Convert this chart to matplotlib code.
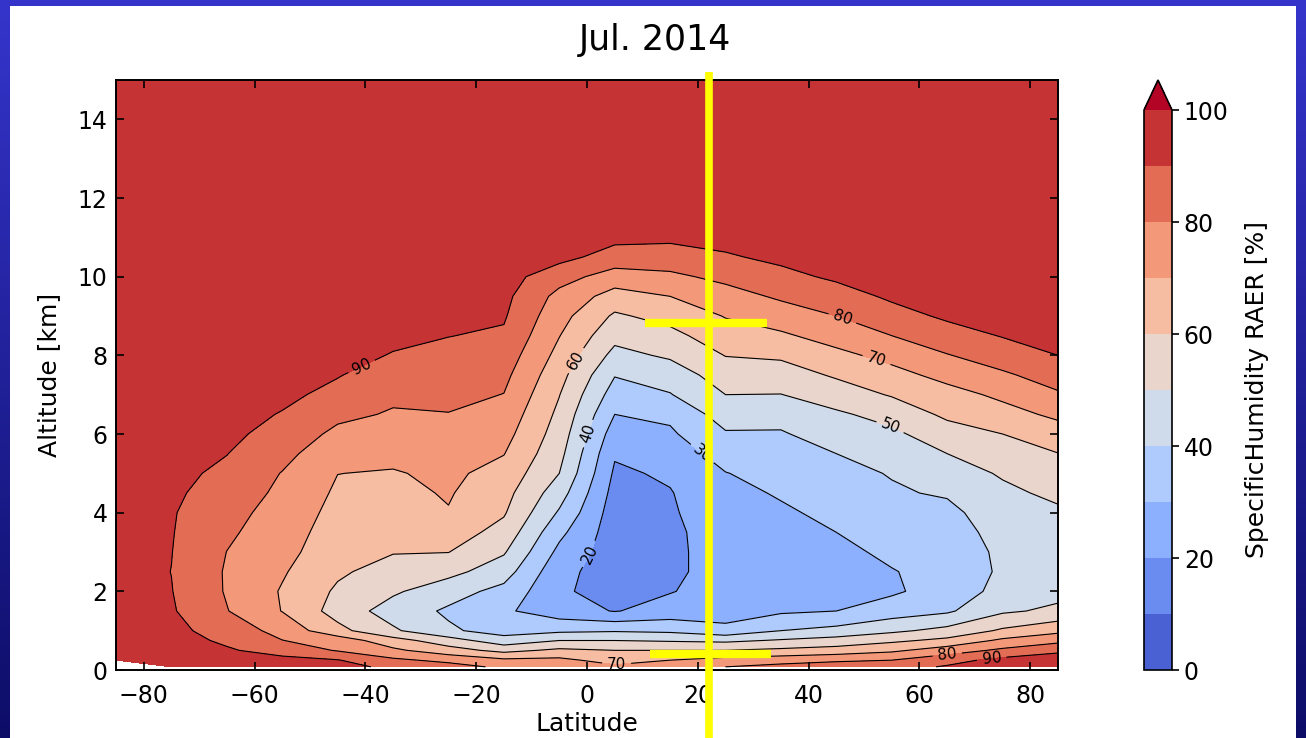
import numpy as np
import matplotlib
matplotlib.use("Agg")
import matplotlib.pyplot as plt
from matplotlib.colors import LinearSegmentedColormap
from matplotlib.lines import Line2D
from matplotlib.patches import Rectangle

# ---------------- data ----------------
lats = [-85, -75, -65, -55, -45, -35, -25, -15, -5, 5, 15, 25, 35, 45, 55, 65, 75, 85]
alts = [0.08, 0.25, 0.5, 0.75, 1.0, 1.5, 2.0, 2.5, 3.0, 3.5, 4.0, 4.5, 5.0, 5.5,
        6.0, 6.5, 7.0, 7.5, 8.0, 8.5, 9.0, 9.5, 10.0, 10.5, 11.0, 12.0, 15.0]

# relative humidity (RAER, %) per latitude column, bottom -> top
nan = float("nan")
rh_m85 = [nan, 97, 96.5, 96, 95.5, 95, 94.5, 94.5, 94.5, 94.7, 95, 95.2, 95.5, 95.8, 96, 96.3, 96.5, 96.8, 97, 97.2, 97.5, 97.7, 98, 98, 98, 98.5, 99]
rh_m75 = [97, 96.5, 95, 93.5, 92.5, 91, 90.3, 89.9, 90.2, 90.5, 90.8, 91.7, 92.5, 93.3, 94, 94.8, 95.5, 96, 96.5, 97, 97.3, 97.5, 97.8, 98, 98, 98.3, 99]
rh_m65 = [95.5, 94, 91, 88.5, 86, 80.4, 79.2, 79.1, 79.9, 81.5, 83, 85.5, 88, 90.2, 92, 93.3, 94.5, 95.3, 96, 96.5, 97, 97.3, 97.5, 97.8, 98, 98, 99]
rh_m55 = [94, 92.5, 86.5, 80.2, 76.5, 69.7, 69.2, 71, 73.3, 75, 76.5, 78, 79.6, 83, 86.8, 89.5, 92, 93, 94, 94.8, 95.5, 96, 96.5, 96.8, 97, 97.5, 99]
rh_m45 = [93, 90.5, 79.2, 75.6, 63, 56, 58.5, 61.5, 63.5, 65, 66.8, 68.5, 70.1, 73, 77.5, 82.5, 87.5, 90.5, 93, 94, 95, 95.5, 96, 96.5, 97, 97.5, 99]
rh_m35 = [88, 82, 72, 64, 51.5, 45.5, 51.5, 56, 60.5, 63, 65.5, 67.5, 69.3, 72.5, 76, 79, 82, 85.5, 89.5, 92, 94, 95, 95.5, 96, 96.5, 97, 98.5]
rh_m25 = [84, 77.5, 64, 54.5, 41.5, 38.5, 44, 53, 60.2, 65, 69.5, 70.8, 72, 74.5, 77, 79.7, 82.5, 85, 87.5, 90.2, 93, 94.5, 95.5, 96, 96.5, 97, 98.5]
rh_m15 = [78, 72, 57, 44, 36, 31.5, 37, 44.5, 51, 56.5, 61, 63.5, 66.5, 70.3, 73.5, 76.5, 79.8, 82.5, 85.5, 88.7, 91, 92.5, 94, 95, 96, 97, 98.5]
rh_m05 = [77, 72.5, 62, 50, 38, 24.5, 21.5, 23, 27.5, 32.5, 38.8, 44.5, 50, 53, 55.5, 57.8, 60.3, 63.5, 67, 70.3, 73.5, 77, 84, 93, 95, 96.5, 98.5]
rh_p05 = [72, 66, 60, 50, 39, 19.5, 16, 15, 14.5, 14.5, 15, 16.5, 18.5, 21, 25, 30, 35.5, 40.5, 47, 53, 58.5, 66, 75.5, 86, 92.5, 96, 98.5]
rh_p15 = [74, 70, 60, 49, 38, 24, 19.5, 18.5, 18.5, 18.5, 19, 19.5, 21.3, 24.5, 28.5, 32, 39.5, 44.5, 51.5, 57, 63.5, 70, 78, 85.5, 92, 96, 98.5]
rh_p25 = [80, 74, 60, 48, 33, 25, 24, 23, 23, 23.5, 25, 27, 29.7, 34, 39, 44.5, 50, 55, 60.3, 66, 70.5, 76, 82.5, 89, 93, 96, 98.5]
rh_p35 = [83, 76, 62, 51, 40, 28.5, 25, 24, 24.5, 26, 28.5, 31, 33.5, 36, 39.2, 43, 49.8, 55.5, 61.5, 68.5, 75, 81.5, 87.5, 92, 94, 96, 98.5]
rh_p45 = [85, 78.5, 64, 54, 43, 30, 27, 26.5, 27.5, 30, 32.5, 35, 37.5, 40, 44, 48.5, 55, 61.2, 67.5, 74, 80, 86, 91.5, 94, 95, 96.5, 98.5]
rh_p55 = [86, 80, 68, 58, 48, 35, 28.5, 29.5, 32, 34.5, 37, 39, 40.5, 43.5, 48, 53.5, 60.8, 66.8, 73, 80, 86.5, 91.5, 94, 95, 96, 97, 98.5]
rh_p65 = [91, 86.5, 75, 62.5, 53, 38.5, 34.5, 33.5, 34, 35.5, 37.5, 41, 45.5, 50, 55.5, 62, 66.5, 73, 79.5, 86, 91.5, 94, 95, 96, 96.5, 97, 98.5]
rh_p75 = [96, 93, 82, 72, 61.5, 48.5, 43, 41.5, 42, 43.5, 45.5, 48, 51, 55, 60, 66.5, 72, 78.5, 85, 90.5, 93.5, 95, 96, 96.5, 97, 97.5, 98.5]
rh_p85 = [97, 94, 88.5, 77, 67.5, 52, 47, 45.5, 45.5, 46.5, 48.5, 52, 56, 59.8, 65.5, 72, 78.8, 84.5, 90, 93, 94.5, 95.5, 96, 96.5, 97, 97.5, 98.5]

levels = [0, 10, 20, 30, 40, 50, 60, 70, 80, 90, 100]
line_levels = [10, 20, 30, 40, 50, 60, 70, 80, 90]
cbar_ticks = [0, 20, 40, 60, 80, 100]
xticks = [-80, -60, -40, -20, 0, 20, 40, 60, 80]
yticks = [0, 2, 4, 6, 8, 10, 12, 14]
label_spots = [(-40.6, 7.7), (46, 8.9), (52.3, 7.9), (-1.9, 7.86), (54.7, 6.17),
               (-1.35, 6.09), (20.5, 5.45), (-0.75, 3.04), (5.3, 0.2),
               (65, 0.42), (73, 0.34)]

columns = [rh_m85, rh_m75, rh_m65, rh_m55, rh_m45, rh_m35, rh_m25, rh_m15, rh_m05,
           rh_p05, rh_p15, rh_p25, rh_p35, rh_p45, rh_p55, rh_p65, rh_p75, rh_p85]
Z = np.ma.masked_invalid(np.array(columns, dtype=float).T)

# ---------------- figure ----------------
W, H = 1306, 738
fig = plt.figure(figsize=(W / 100, H / 100), dpi=100)

# slide background (blue gradient) with white panel
bg = fig.add_axes([0, 0, 1, 1], zorder=-10)
grad = np.linspace(0, 1, 256).reshape(-1, 1)
bg.imshow(grad, aspect="auto", extent=[0, 1, 0, 1], origin="upper",
          cmap=LinearSegmentedColormap.from_list("bg", ["#3535cc", "#0d0d68"]))
bg.add_patch(Rectangle((10 / W, 0), (1296 - 10) / W, (H - 6) / H,
                       transform=bg.transAxes, facecolor="white", edgecolor="none"))
bg.set_xlim(0, 1)
bg.set_ylim(0, 1)
bg.axis("off")

ax = fig.add_axes([116 / W, (H - 670) / H, 942 / W, 590 / H])
cf = ax.contourf(lats, alts, Z, levels=levels, cmap="coolwarm", extend="max")
cs = ax.contour(lats, alts, Z, levels=line_levels, colors="k", linewidths=0.8)
ax.clabel(cs, fmt="%d", fontsize=11, inline=True, manual=label_spots)

ax.set_xlim(-85, 85)
ax.set_ylim(0, 15)
ax.set_xticks(xticks)
ax.set_yticks(yticks)
ax.tick_params(direction="in", top=True, right=True, length=6, width=1.2,
               labelsize=17, colors="black")
ax.tick_params(axis="x", pad=10)
ax.tick_params(axis="y", pad=6)
ax.set_xlabel("Latitude", fontsize=18, labelpad=3)
ax.set_ylabel("Altitude [km]", fontsize=18, labelpad=12)
for s in ax.spines.values():
    s.set_linewidth(1.4)

cax = fig.add_axes([1144 / W, (H - 670) / H, 28 / W, 590 / H])
cb = fig.colorbar(cf, cax=cax, extend="max", extendfrac=30 / 560, ticks=cbar_ticks)
cb.ax.tick_params(labelsize=17, length=5, width=1.2)
cb.set_label("SpecificHumidity RAER [%]", fontsize=18, labelpad=12)
cb.outline.set_linewidth(1.2)

fig.text(655 / W, 1 - 40 / H, "Jul. 2014", ha="center", va="center", fontsize=25)

# yellow cross overlay
yel = "#ffff00"
fig.add_artist(Line2D([709 / W, 709 / W], [1 - 72 / H, 0], color=yel, lw=5.5,
                      solid_capstyle="butt"))
fig.add_artist(Line2D([645 / W, 767 / W], [1 - 323 / H, 1 - 323 / H], color=yel, lw=6,
                      solid_capstyle="butt"))
fig.add_artist(Line2D([650 / W, 771 / W], [1 - 654 / H, 1 - 654 / H], color=yel, lw=6,
                      solid_capstyle="butt"))

fig.savefig("out.png", dpi=100)
